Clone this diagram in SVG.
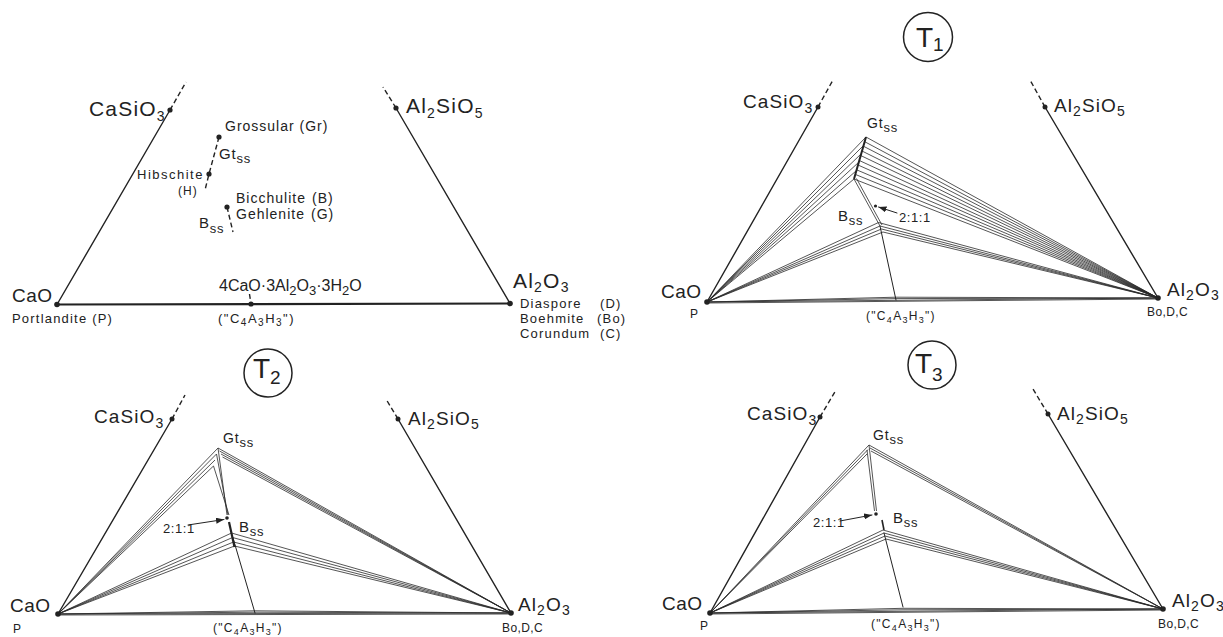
<svg xmlns="http://www.w3.org/2000/svg" width="1223" height="637" viewBox="0 0 1223 637">
<defs>
<style>
.ln{stroke:#222;stroke-width:1.4;fill:none;stroke-linecap:round}
.bl{stroke:#222;stroke-width:2.2;fill:none}
.ds{stroke:#222;stroke-width:1.4;fill:none;stroke-dasharray:5 3}
.tie{stroke:#2a2a2a;stroke-width:0.8;fill:none}
.thk{stroke:#222;stroke-width:2;fill:none}
.dot{fill:#222}
.ring{stroke:#222;stroke-width:1.5;fill:none}
text{font-family:"Liberation Sans",Arial,sans-serif;fill:#222}
.b1{font-size:21px;letter-spacing:1.2px}
.b2{font-size:19px;letter-spacing:1.1px}
.cao{font-size:19px;letter-spacing:0.5px}
.sb{font-size:14px}
.sb2{font-size:13px}
.m{font-size:14px;letter-spacing:1px}
.s{font-size:13px;letter-spacing:1.2px}
.xs{font-size:12px;letter-spacing:0.4px}
.q{font-size:12px;letter-spacing:1.3px}
.qs{font-size:9px}
.tt{font-size:28px}
.ts{font-size:19px}
</style>
<marker id="arr" markerWidth="8" markerHeight="6" refX="8" refY="3" orient="auto" markerUnits="userSpaceOnUse">
<path d="M0,0 L8,3 L0,6 z" fill="#222"/>
</marker>
</defs>
<rect width="1223" height="637" fill="#fff"/>

<!-- ================= TOP-LEFT ================= -->
<g id="panel-tl">
<g id="tl-connectors">
<path class="ln" d="M57 304.5 L170 110"/>
<path class="ds" d="M170 110 L186 82"/>
<path class="ln" d="M510 303.5 L396 108"/>
<path class="ds" d="M396 108 L383 87"/>
<path class="bl" d="M57 304.5 L510 303.5"/>
<path class="ds" d="M219 137 L209 174 L205 190"/>
<path class="ds" d="M227 207 L233 232"/>
<path class="ds" d="M249.5 294 L250.5 301"/>
</g>
<g id="tl-CaSiO3"><circle class="dot" cx="170" cy="110" r="2.6"/>
<text class="b1" x="89" y="116">CaSiO<tspan class="sb" dy="5">3</tspan></text></g>
<g id="tl-Al2SiO5"><circle class="dot" cx="396" cy="108" r="2.6"/>
<text class="b1" x="406" y="113">Al<tspan class="sb" dy="5">2</tspan><tspan dy="-5">SiO</tspan><tspan class="sb" dy="5">5</tspan></text></g>
<g id="tl-CaO"><circle class="dot" cx="57" cy="304.5" r="2.8"/>
<text class="cao" x="12" y="302">CaO</text>
<text class="s" x="12" y="323">Portlandite (P)</text></g>
<g id="tl-Al2O3"><circle class="dot" cx="510" cy="303.5" r="2.8"/>
<text class="b1" x="513" y="288">Al<tspan class="sb" dy="4">2</tspan><tspan dy="-4">O</tspan><tspan class="sb" dy="4">3</tspan></text>
<text class="s" x="520" y="308">Diaspore</text><text class="s" x="600" y="308">(D)</text>
<text class="s" x="520" y="323">Boehmite</text><text class="s" x="597" y="323">(Bo)</text>
<text class="s" x="520" y="338">Corundum</text><text class="s" x="600" y="338">(C)</text></g>
<g id="tl-Grossular"><circle class="dot" cx="219" cy="137" r="2.6"/>
<text class="m" x="225" y="131">Grossular (Gr)</text></g>
<g id="tl-Gtss"><text x="219" y="159" style="font-size:15px;letter-spacing:0.8px">Gt<tspan class="sb2" dy="4">ss</tspan></text></g>
<g id="tl-Hibschite"><circle class="dot" cx="209" cy="174" r="2.6"/>
<text x="137" y="179" style="font-size:13px;letter-spacing:1.5px">Hibschite</text>
<text x="178" y="195" style="font-size:12px;letter-spacing:1px">(H)</text></g>
<g id="tl-Bicchulite"><circle class="dot" cx="227" cy="207" r="2.6"/>
<text class="m" x="236" y="203">Bicchulite</text><text class="m" x="312" y="203">(B)</text>
<text class="m" x="236" y="219">Gehlenite</text><text class="m" x="311" y="219">(G)</text></g>
<g id="tl-Bss"><text x="199" y="228" style="font-size:15px;letter-spacing:0.8px">B<tspan class="sb2" dy="5">ss</tspan></text></g>
<g id="tl-C4A3H3"><circle class="dot" cx="251" cy="304" r="2.6"/>
<text x="219" y="291" style="font-size:16px">4CaO·3Al<tspan class="sb2" dy="4">2</tspan><tspan dy="-4">O</tspan><tspan class="sb2" dy="4">3</tspan><tspan dy="-4">·3H</tspan><tspan class="sb2" dy="4">2</tspan><tspan dy="-4">O</tspan></text>
<text x="218" y="323" style="font-size:13px;letter-spacing:1.5px">("C<tspan style="font-size:10px" dy="3">4</tspan><tspan dy="-3">A</tspan><tspan style="font-size:10px" dy="3">3</tspan><tspan dy="-3">H</tspan><tspan style="font-size:10px" dy="3">3</tspan><tspan dy="-3">")</tspan></text></g>
</g>

<!-- ================= T1 ================= -->
<g id="panel-t1">
<g id="t1-connectors">
<path class="ln" d="M707 302 L818 107"/>
<path class="ds" d="M818 107 L833 80"/>
<path class="ln" d="M1158 298 L1045 107"/>
<path class="ds" d="M1045 107 L1030 80"/>
<path class="tie" d="M707 302 L1158 298 M707 302 L896 298.6 L1158 298 M707 302 L896 297.2 L1158 298 M707 303 L1158 299"/>
<path class="tie" d="M1158 298 L866 137 M1158 298 L864.7 141.7 M1158 298 L863.4 146.2 M1158 298 L862 151 M1158 298 L860.7 155.5 M1158 298 L859.3 160.5 M1158 298 L858 165 M1158 298 L856.6 169.8 M1158 298 L855.3 174.4 M1158 298 L854 179"/>
<path class="tie" d="M707 302 L866 137 M707 302 L863.6 145.4 M707 302 L861.2 153.8 M707 302 L858.8 162.2 M707 302 L856.4 170.6 M707 302 L854 179"/>
<path class="tie" d="M707 302 L878.5 222.5 M707 302 L880 226 M707 302 L881.5 229 M707 302 L883 232"/>
<path class="tie" d="M1158 298 L878.5 222.5 M1158 298 L880 226 M1158 298 L881.5 229 M1158 298 L883 232"/>
<path class="thk" d="M866 137 L854 179"/>
<path class="tie" d="M854 179 L880 226 M856.5 178.5 L882 225"/>
<path class="ln" style="stroke-width:1" d="M880 226 L896 300"/>
<path class="ln" style="stroke-width:1" d="M897 213 L878.5 207" marker-end="url(#arr)"/>
</g>
<g id="t1-label"><circle class="ring" cx="928" cy="37" r="24.5"/>
<text class="tt" x="916" y="47">T<tspan class="ts" dy="4">1</tspan></text></g>
<g id="t1-CaSiO3"><circle class="dot" cx="818" cy="107" r="2.5"/>
<text class="b2" x="743" y="108">CaSiO<tspan class="sb" dy="5">3</tspan></text></g>
<g id="t1-Al2SiO5"><circle class="dot" cx="1045" cy="107" r="2.5"/>
<text class="b2" x="1054" y="112">Al<tspan class="sb" dy="4">2</tspan><tspan dy="-4">SiO</tspan><tspan class="sb" dy="4">5</tspan></text></g>
<g id="t1-CaO"><circle class="dot" cx="707" cy="302" r="2.8"/>
<text class="cao" x="661" y="298">CaO</text><text class="xs" x="690" y="318">P</text></g>
<g id="t1-Al2O3"><circle class="dot" cx="1158" cy="298" r="2.8"/>
<text class="b2" x="1167" y="296">Al<tspan class="sb" dy="4">2</tspan><tspan dy="-4">O</tspan><tspan class="sb" dy="4">3</tspan></text>
<text class="xs" x="1147" y="316">Bo,D,C</text></g>
<g id="t1-Gtss"><text x="867" y="128" style="font-size:14px;letter-spacing:0.8px">Gt<tspan class="sb2" dy="4">ss</tspan></text></g>
<g id="t1-Bss"><text x="838" y="221" style="font-size:15px;letter-spacing:0.8px">B<tspan class="sb2" dy="4">ss</tspan></text></g>
<g id="t1-211"><circle class="dot" cx="875.5" cy="206" r="1.6"/>
<text x="899" y="222" style="font-size:13px;letter-spacing:0.6px">2:1:1</text></g>
<g id="t1-C4A3H3"><text class="q" x="866" y="320">("C<tspan class="qs" dy="3">4</tspan><tspan dy="-3">A</tspan><tspan class="qs" dy="3">3</tspan><tspan dy="-3">H</tspan><tspan class="qs" dy="3">3</tspan><tspan dy="-3">")</tspan></text></g>
</g>

<!-- ================= T2 ================= -->
<g id="panel-t2">
<g id="t2-connectors">
<path class="ln" d="M58 614 L172 419"/>
<path class="ds" d="M172 419 L185 395"/>
<path class="ln" d="M511 613 L398 419"/>
<path class="ds" d="M398 419 L386 399"/>
<path class="tie" d="M58 614 L511 613 M58 614 L255 612.2 L511 613 M58 614 L255 610.8 L511 613 M58 615 L511 614"/>
<path class="tie" d="M58 614 L218 448 M58 614 L216.5 454 M58 614 L215 460 M58 614 L213.5 466"/>
<path class="tie" d="M511 613 L218 448 M511 613 L219.5 451 M511 613 L221 454 M511 613 L222.5 457"/>
<path class="tie" d="M218 448 L227 515 M216.5 454 L228 515 M213.5 466 L229 515"/>
<path class="thk" style="stroke-width:2.2" d="M229 522 L234.5 547"/>
<path class="tie" d="M58 614 L231.5 533 M58 614 L232.5 537.5 M58 614 L233.5 542 M58 614 L234.5 546"/>
<path class="tie" d="M511 613 L231.5 533 M511 613 L232.5 537.5 M511 613 L233.5 542 M511 613 L234.5 546"/>
<path class="ln" style="stroke-width:1" d="M233 538 L255 613"/>
<path class="ln" style="stroke-width:1" d="M188 525 L224 519.5" marker-end="url(#arr)"/>
</g>
<g id="t2-label"><circle class="ring" cx="268" cy="373" r="24"/>
<text class="tt" x="253" y="378">T<tspan class="ts" dy="6">2</tspan></text></g>
<g id="t2-CaSiO3"><circle class="dot" cx="172" cy="419" r="2.5"/>
<text class="b2" x="94" y="423">CaSiO<tspan class="sb" dy="5">3</tspan></text></g>
<g id="t2-Al2SiO5"><circle class="dot" cx="398" cy="419" r="2.5"/>
<text class="b2" x="408" y="425">Al<tspan class="sb" dy="4">2</tspan><tspan dy="-4">SiO</tspan><tspan class="sb" dy="4">5</tspan></text></g>
<g id="t2-CaO"><circle class="dot" cx="58" cy="614" r="2.8"/>
<text class="cao" x="10" y="612">CaO</text><text class="xs" x="13" y="633">P</text></g>
<g id="t2-Al2O3"><circle class="dot" cx="511" cy="613" r="2.8"/>
<text class="b2" x="518" y="611">Al<tspan class="sb" dy="4">2</tspan><tspan dy="-4">O</tspan><tspan class="sb" dy="4">3</tspan></text>
<text class="xs" x="502" y="632">Bo,D,C</text></g>
<g id="t2-Gtss"><text x="223" y="443" style="font-size:14px;letter-spacing:0.8px">Gt<tspan class="sb2" dy="4">ss</tspan></text></g>
<g id="t2-Bss"><text x="239" y="532" style="font-size:15px;letter-spacing:0.8px">B<tspan class="sb2" dy="4">ss</tspan></text></g>
<g id="t2-211"><circle class="dot" cx="227" cy="518" r="1.8"/>
<text x="163" y="533" style="font-size:13px;letter-spacing:0.6px">2:1:1</text></g>
<g id="t2-C4A3H3"><text class="q" x="213" y="632">("C<tspan class="qs" dy="3">4</tspan><tspan dy="-3">A</tspan><tspan class="qs" dy="3">3</tspan><tspan dy="-3">H</tspan><tspan class="qs" dy="3">3</tspan><tspan dy="-3">")</tspan></text></g>
</g>

<!-- ================= T3 ================= -->
<g id="panel-t3">
<g id="t3-connectors">
<path class="ln" d="M710 613 L820 417"/>
<path class="ds" d="M820 417 L836 390"/>
<path class="ln" d="M1163 609 L1048 414"/>
<path class="ds" d="M1048 414 L1033 389"/>
<path class="tie" d="M710 613 L1163 609 M710 613 L903 609.8 L1163 609 M710 613 L903 608.3 L1163 609 M710 614 L1163 610"/>
<path class="tie" d="M710 613 L869 445 M710 613 L868 449.5 M710 613 L867 454"/>
<path class="tie" d="M1163 609 L869 445 M1163 609 L870 448 M1163 609 L871 451"/>
<path class="tie" d="M869 445 L876.5 511 M867 450 L874.5 511"/>
<path class="thk" style="stroke-width:1.6" d="M882 520 L884 530"/>
<path class="tie" d="M710 613 L883 530 M710 613 L884 533 M710 613 L885 536 M710 613 L886 539"/>
<path class="tie" d="M1163 609 L883 530 M1163 609 L884 533 M1163 609 L885 536 M1163 609 L886 539"/>
<path class="ln" style="stroke-width:1" d="M884 533 L903 607"/>
<path class="ln" style="stroke-width:1" d="M840 521 L872 515" marker-end="url(#arr)"/>
</g>
<g id="t3-label"><circle class="ring" cx="932" cy="365" r="24"/>
<text class="tt" x="915" y="373">T<tspan class="ts" dy="8">3</tspan></text></g>
<g id="t3-CaSiO3"><circle class="dot" cx="820" cy="417" r="2.5"/>
<text class="b2" x="747" y="420">CaSiO<tspan class="sb" dy="5">3</tspan></text></g>
<g id="t3-Al2SiO5"><circle class="dot" cx="1048" cy="414" r="2.5"/>
<text class="b2" x="1057" y="420">Al<tspan class="sb" dy="4">2</tspan><tspan dy="-4">SiO</tspan><tspan class="sb" dy="4">5</tspan></text></g>
<g id="t3-CaO"><circle class="dot" cx="710" cy="613" r="2.8"/>
<text class="cao" x="662" y="610">CaO</text><text class="xs" x="700" y="630">P</text></g>
<g id="t3-Al2O3"><circle class="dot" cx="1163" cy="609" r="2.8"/>
<text class="b2" x="1172" y="607">Al<tspan class="sb" dy="4">2</tspan><tspan dy="-4">O</tspan><tspan class="sb" dy="4">3</tspan></text>
<text class="xs" x="1158" y="628">Bo,D,C</text></g>
<g id="t3-Gtss"><text x="873" y="440" style="font-size:14px;letter-spacing:0.8px">Gt<tspan class="sb2" dy="4">ss</tspan></text></g>
<g id="t3-Bss"><text x="893" y="523" style="font-size:15px;letter-spacing:0.8px">B<tspan class="sb2" dy="4">ss</tspan></text></g>
<g id="t3-211"><circle class="dot" cx="876" cy="514" r="1.8"/>
<text x="813" y="527" style="font-size:13px;letter-spacing:0.6px">2:1:1</text></g>
<g id="t3-C4A3H3"><text class="q" x="871" y="628">("C<tspan class="qs" dy="3">4</tspan><tspan dy="-3">A</tspan><tspan class="qs" dy="3">3</tspan><tspan dy="-3">H</tspan><tspan class="qs" dy="3">3</tspan><tspan dy="-3">")</tspan></text></g>
</g>
</svg>
